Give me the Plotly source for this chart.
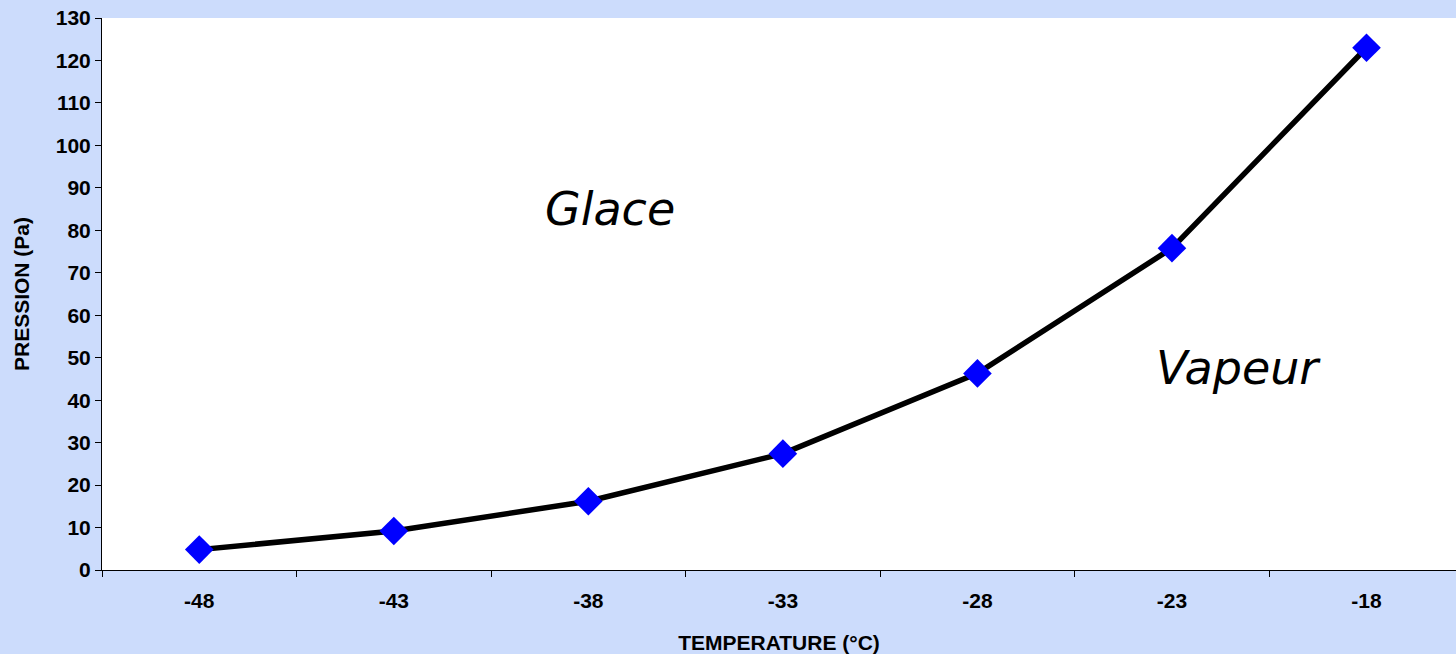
import plotly.graph_objects as go

# data
temperatures = ["-48", "-43", "-38", "-33", "-28", "-23", "-18"]
pressures = [4.8, 9.2, 16.2, 27.4, 46.3, 75.8, 123.0]
y_ticks = list(range(0, 131, 10))

bg = "#CCDCFC"
bold = "Liberation Sans"
hand = "Comic Sans MS, DejaVu Sans"

fig = go.Figure()

fig.add_trace(go.Scatter(
    x=temperatures,
    y=pressures,
    mode="lines+markers",
    line=dict(color="black", width=5.5),
    marker=dict(symbol="diamond", size=22, color="#0000FF"),
    showlegend=False,
))

# region labels
fig.add_annotation(x=2.11, y=85, text="Glace", showarrow=False,
                   font=dict(family=hand, size=46, style="italic", color="black"))
fig.add_annotation(x=5.34, y=47.5, text="Vapeur", showarrow=False,
                   font=dict(family=hand, size=46, style="italic", color="black"))

fig.update_xaxes(
    type="category",
    range=[-0.5, 6.46],
    showline=True, linecolor="black", linewidth=1,
    ticks="outside", ticklen=6, tickcolor="black", tickson="boundaries",
    ticklabelstandoff=12,
    showgrid=False, zeroline=False,
    tickfont=dict(family=bold, size=21, color="black", weight="bold"),
    title=dict(text="TEMPERATURE (°C)", standoff=26,
               font=dict(family=bold, size=21, color="black", weight="bold")),
)
fig.update_yaxes(
    range=[0, 130],
    tickvals=y_ticks,
    showline=True, linecolor="black", linewidth=1,
    ticks="outside", ticklen=6, tickcolor="black",
    showgrid=False, zeroline=False,
    tickfont=dict(family=bold, size=21, color="black", weight="bold"),
    title=dict(text="PRESSION (Pa)", standoff=20,
               font=dict(family=bold, size=21, color="black", weight="bold")),
)

fig.update_layout(
    width=1456, height=654,
    margin=dict(l=102, r=0, t=18, b=84),
    paper_bgcolor=bg,
    plot_bgcolor="white",
)

fig.write_html("out.html", config={"displayModeBar": False},
               post_script="document.body.style.margin='0';document.body.style.overflow='hidden';")
